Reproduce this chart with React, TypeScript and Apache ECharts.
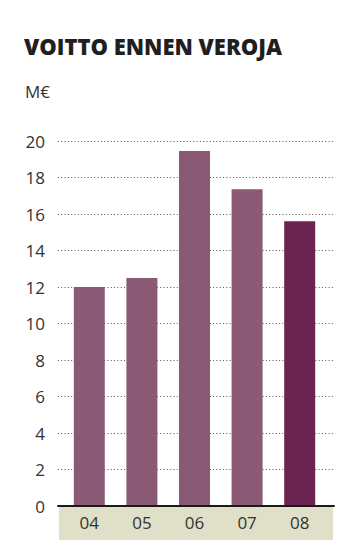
import React, { useEffect, useRef } from "react";
import * as echarts from "echarts";

const title = "VOITTO ENNEN VEROJA";
const unit = "M€";
const categories = ["04", "05", "06", "07", "08"];
const values = [12.0, 12.5, 19.45, 17.35, 15.6];
const barColors = ["#8a5a74", "#8a5a74", "#8a5a74", "#8a5a74", "#6b2450"];

export default function App() {
  const ref = useRef<HTMLDivElement>(null);
  useEffect(() => {
    if (!ref.current) return;
    const chart = echarts.init(ref.current, undefined, { renderer: "svg" });
    const top = 141;
    const height = 365;
    chart.setOption({
      animation: false,
      backgroundColor: "#ffffff",
      title: [
        {
          text: title,
          left: 24,
          top: 35,
          padding: 0,
          textStyle: { fontFamily: "Open Sans", fontWeight: 800, fontSize: 22, color: "#1f1f22" },
        },
        {
          text: unit,
          left: 25,
          top: 83,
          padding: 0,
          textStyle: { fontFamily: "Open Sans", fontWeight: "normal", fontSize: 17, color: "#333" },
        },
      ],
      grid: [
        { left: 58, width: 276, top, height },
        { left: 63, width: 263, top, height },
      ],
      xAxis: [
        {
          type: "category",
          gridIndex: 0,
          data: categories,
          axisLine: { show: true, lineStyle: { color: "#1a1a1a", width: 2 } },
          axisTick: { show: false },
          axisLabel: { show: false },
          z: 5,
        },
        {
          type: "category",
          gridIndex: 1,
          data: categories,
          axisLine: { show: false },
          axisTick: { show: false },
          axisLabel: { fontFamily: "Open Sans", fontSize: 17, color: "#333", margin: 8 },
          z: 6,
        },
      ],
      yAxis: [
        {
          type: "value",
          gridIndex: 0,
          min: 0,
          max: 20,
          interval: 2,
          axisLine: { show: false },
          axisTick: { show: false },
          axisLabel: { fontFamily: "Open Sans", fontSize: 17, color: "#333", margin: 13 },
          splitLine: { lineStyle: { type: [1, 2.3], color: "#555", width: 1 } },
        },
        {
          type: "value",
          gridIndex: 1,
          min: 0,
          max: 20,
          interval: 2,
          show: false,
          splitLine: { show: false },
        },
      ],
      graphic: [
        {
          type: "rect",
          shape: { x: 59, y: 507, width: 274, height: 33 },
          style: { fill: "#e0e0c8" },
          z: -1,
        },
      ],
      series: [
        {
          type: "bar",
          xAxisIndex: 1,
          yAxisIndex: 1,
          barWidth: 31,
          data: values.map((v, i) => ({ value: v, itemStyle: { color: barColors[i] } })),
        },
      ],
    });
    return () => chart.dispose();
  }, []);
  return <div ref={ref} style={{ width: 364, height: 551, position: "absolute", left: 0, top: 0 }} />;
}
